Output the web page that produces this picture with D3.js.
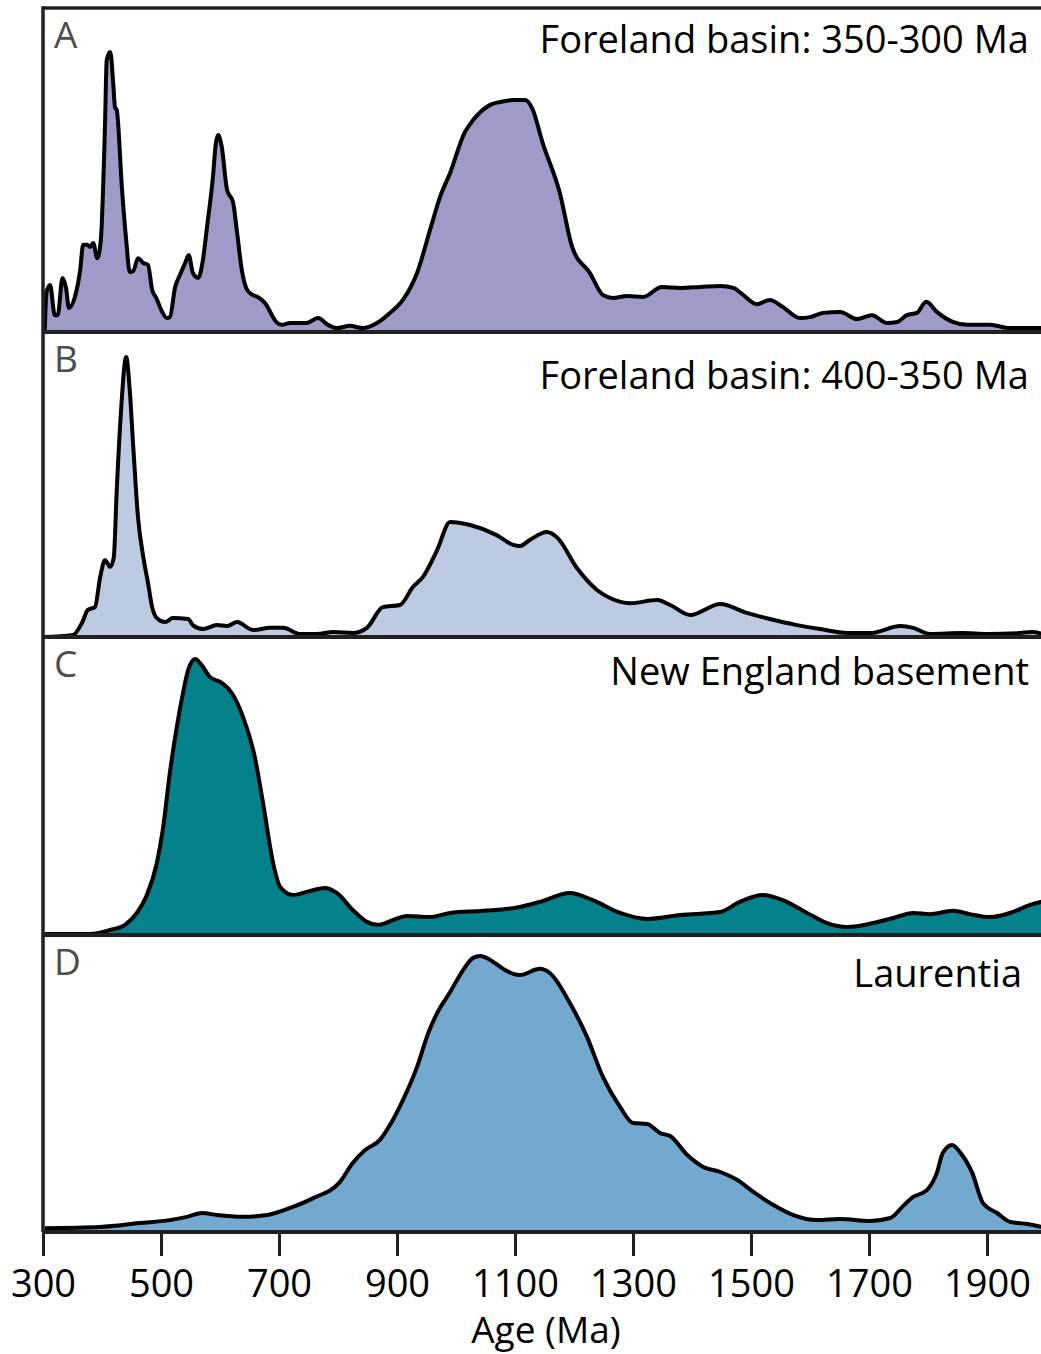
<!DOCTYPE html>
<html>
<head>
<meta charset="utf-8">
<script src="https://cdn.jsdelivr.net/npm/d3@7"></script>
<style>
  body { margin: 0; background: #fff; }
  text { font-family: "Open Sans", sans-serif; }
</style>
</head>
<body>
<div id="chart"></div>
<script>
// detrital zircon age spectra, values as relative probability (0-100 of panel height)
var agesA = [303,306,312,320,325,333,339,344,354,363,368,375,380,385,392,398,405,408,414,419,422,425,434,441,447,453,461,470,478,485,492,502,510,515,524,532,541,547,554,563,571,578,588,593,597,603,612,622,629,637,646,656,664,676,697,705,719,747,766,783,798,820,842,866,888,910,934,956,973,990,1015,1029,1058,1075,1097,1117,1129,1147,1176,1197,1227,1249,1266,1290,1317,1349,1380,1414,1448,1470,1487,1510,1532,1554,1583,1600,1622,1651,1680,1705,1730,1748,1764,1781,1797,1815,1842,1866,1905,1939,1995];
var valsA = [0.6,12.3,14.5,5.2,5.2,16.7,13.6,7.4,10.8,19.1,26.9,26.9,26.2,27.5,22.8,28.4,63.3,84.0,86.4,76.9,69.4,68.5,43.8,28.4,18.5,18.8,22.8,21.3,20.7,13.0,10.5,6.2,4.3,4.6,13.9,17.6,21.3,23.8,18.2,16.7,22.2,32.4,47.8,58.3,60.8,57.1,43.8,40.1,30.6,19.1,13.0,11.4,10.8,9.0,2.8,2.2,2.8,2.8,4.3,2.2,1.2,1.9,1.2,2.8,5.9,9.9,18.2,31.5,41.7,49.1,61.7,65.4,70.1,71.0,71.6,71.6,69.1,58.3,42.9,26.2,18.2,11.4,10.5,11.1,10.8,13.9,13.6,13.9,14.2,13.6,11.4,8.6,9.9,7.7,4.3,4.6,5.9,6.2,4.0,5.2,2.8,3.1,5.2,5.9,9.3,6.2,3.1,2.2,2.2,1.2,1.2];

var agesB = [300,351,366,376,388,397,405,414,420,425,432,441,447,453,461,470,478,485,493,507,520,546,554,571,595,612,629,656,685,707,736,764,792,825,849,876,905,927,944,968,990,1024,1069,1097,1108,1125,1154,1172,1205,1239,1261,1295,1341,1363,1397,1448,1493,1532,1578,1617,1663,1702,1753,1775,1803,1859,1900,1956,1976,1995];
var valsB = [0,0.7,4.6,8.9,9.8,19.7,25.2,23.0,26.2,48.2,73.4,91.8,81.0,62.3,39.3,26.2,17.7,9.8,6.2,4.9,6.2,5.9,3.9,2.6,3.9,3.6,4.9,2.3,3.0,3.0,1.0,1.0,1.6,1.3,3.0,9.8,10.5,16.4,19.7,28.5,37.7,36.7,33.4,30.2,29.8,31.8,34.4,32.5,22.6,15.4,12.8,11.1,12.1,10.5,7.2,10.8,7.9,5.9,3.9,2.6,1.3,1.3,3.6,3.0,1.0,1.3,1.0,1.3,1.6,1.0];

var agesC = [303,380,414,439,459,476,493,503,515,524,536,546,558,566,583,603,620,639,659,673,690,702,724,753,778,798,825,849,868,893,917,956,990,1046,1108,1142,1193,1232,1278,1324,1380,1448,1481,1520,1554,1595,1629,1663,1707,1741,1775,1803,1842,1871,1905,1939,1973,1995];
var valsC = [0.3,0.3,1.7,3.4,7.4,13.4,24.2,35.2,54.4,66.4,79.9,88.9,92.6,91.3,86.6,84.6,81.2,73.2,59.7,44.3,24.2,16.1,13.4,14.8,15.8,14.1,8.4,4.4,3.4,5.0,6.4,6.0,7.4,8.1,9.4,11.1,14.1,11.7,7.4,5.4,6.7,7.7,11.1,13.4,11.7,7.4,4.0,2.7,4.0,5.7,7.4,7.0,8.1,7.0,6.0,7.4,10.1,11.3];

var agesD = [303,397,464,515,544,570,595,639,680,719,758,803,825,846,871,888,910,934,953,968,990,1012,1029,1041,1058,1080,1097,1108,1142,1159,1193,1222,1249,1278,1300,1324,1346,1363,1392,1419,1448,1477,1504,1538,1572,1612,1651,1702,1736,1758,1775,1798,1815,1825,1841,1854,1875,1893,1917,1939,1968,1995];
var valsD = [1.3,1.7,3.0,4.0,5.1,6.4,5.7,5.1,5.7,8.1,11.4,16.8,23.2,27.6,31.0,36.0,44.4,55.6,67.0,73.7,80.8,88.2,92.3,92.9,91.6,88.6,86.9,86.5,88.6,87.2,77.1,65.7,52.2,42.1,36.7,36.4,33.3,32.3,25.9,21.9,20.2,17.5,13.5,9.1,5.7,4.0,4.4,3.7,4.7,8.8,11.8,14.1,19.9,26.6,29.3,26.9,19.9,9.8,6.4,3.4,2.7,1.6];

var panelLetters = ["A", "B", "C", "D"];
var panelTitles = ["Foreland basin: 350-300 Ma", "Foreland basin: 400-350 Ma", "New England basement", "Laurentia"];
var tickAges = [300, 500, 700, 900, 1100, 1300, 1500, 1700, 1900];

var series = [
  { ages: agesA, vals: valsA },
  { ages: agesB, vals: valsB },
  { ages: agesC, vals: valsC },
  { ages: agesD, vals: valsD }
];

// layout
var W = 1041, H = 1354;
var axisX = 43;
var panelTop = [8, 332, 637, 935];
var panelBase = [332, 637, 935, 1232];
var fills = ["#9e9bc8", "#bccae2", "#04818a", "#74a9cf"];
var lineColor = "#231f20";

var svg = d3.select("#chart").append("svg")
  .attr("width", W)
  .attr("height", H);

var x = d3.scaleLinear().domain([300, 2000]).range([axisX, axisX + 1700 * 0.59]);

svg.append("defs").append("clipPath").attr("id", "plotClip")
  .append("rect").attr("x", axisX).attr("y", 0).attr("width", W - axisX).attr("height", H);

series.forEach(function(s, i) {
  var y = d3.scaleLinear().domain([0, 100]).range([panelBase[i], panelTop[i]]);
  var pts = s.ages.map(function(a, j) { return [a, s.vals[j]]; });

  var area = d3.area()
    .curve(d3.curveMonotoneX)
    .x(function(d) { return x(d[0]); })
    .y0(panelBase[i])
    .y1(function(d) { return y(d[1]); });

  var line = d3.line()
    .curve(d3.curveMonotoneX)
    .x(function(d) { return x(d[0]); })
    .y(function(d) { return y(d[1]); });

  var g = svg.append("g").attr("clip-path", "url(#plotClip)");

  g.append("path")
    .datum(pts)
    .attr("d", area)
    .attr("fill", fills[i]);

  g.append("path")
    .datum(pts)
    .attr("d", line)
    .attr("fill", "none")
    .attr("stroke", "#000")
    .attr("stroke-width", 4)
    .attr("stroke-linejoin", "round");

  // panel letter
  svg.append("text")
    .attr("x", axisX + 11)
    .attr("y", panelTop[i] + 40)
    .attr("font-size", 37)
    .attr("fill", "#4d4d4d")
    .text(panelLetters[i]);

  // panel title
  svg.append("text")
    .attr("x", i == 3 ? 1022 : 1029)
    .attr("y", panelTop[i] + 45 + (i == 1 ? 12 : 0) + (i == 2 ? 3 : 0) + (i == 3 ? 7 : 0))
    .attr("text-anchor", "end")
    .attr("font-size", 38)
    .attr("fill", "#000")
    .text(panelTitles[i]);
});

// top border
svg.append("line")
  .attr("x1", axisX).attr("x2", W)
  .attr("y1", panelTop[0]).attr("y2", panelTop[0])
  .attr("stroke", lineColor).attr("stroke-width", 3.5);

// panel baselines
panelBase.forEach(function(b) {
  svg.append("line")
    .attr("x1", axisX).attr("x2", W)
    .attr("y1", b).attr("y2", b)
    .attr("stroke", lineColor).attr("stroke-width", 4);
});

// left axis line
svg.append("line")
  .attr("x1", axisX).attr("x2", axisX)
  .attr("y1", panelTop[0] - 1.75).attr("y2", panelBase[3])
  .attr("stroke", lineColor).attr("stroke-width", 3.5);

// x axis
var xAxis = d3.axisBottom(x)
  .tickValues(tickAges)
  .tickFormat(d3.format("d"))
  .tickSize(24)
  .tickSizeOuter(0)
  .tickPadding(14);

var xAxisGroup = svg.append("g")
  .attr("class", "x axis")
  .attr("transform", "translate(0," + panelBase[3] + ")")
  .call(xAxis);

xAxisGroup.select(".domain").remove();
xAxisGroup.selectAll(".tick line")
  .attr("stroke", lineColor)
  .attr("stroke-width", 3);
xAxisGroup.selectAll(".tick text")
  .attr("font-family", "Open Sans, sans-serif")
  .attr("font-size", 38)
  .attr("fill", "#000");

svg.append("text")
  .attr("x", 546)
  .attr("y", 1343)
  .attr("text-anchor", "middle")
  .attr("font-size", 37)
  .attr("fill", "#000")
  .text("Age (Ma)");
</script>
</body>
</html>
